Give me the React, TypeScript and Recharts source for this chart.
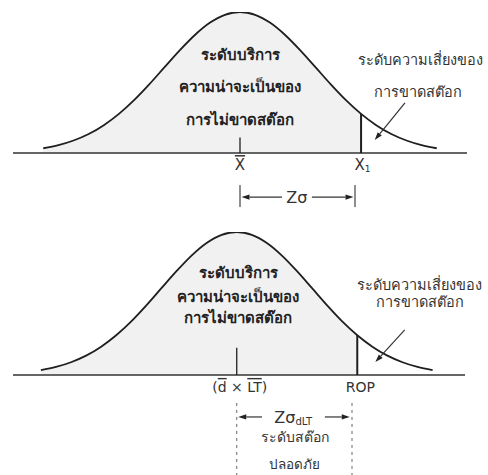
import React from "react";
import { Area, ComposedChart, Line, ReferenceDot, ReferenceLine, XAxis, YAxis } from "recharts";

// z positions (in sigma units) and curve height
const zValues = [-2.6, -2.4, -2.2, -2.0, -1.8, -1.6, -1.4, -1.2, -1.0, -0.8, -0.6, -0.4, -0.2, 0, 0.2, 0.4, 0.6, 0.8, 1.0, 1.2, 1.4, 1.6, 1.8, 2.0, 2.2, 2.4, 2.6];
const density = [0.034, 0.056, 0.089, 0.135, 0.198, 0.278, 0.375, 0.487, 0.607, 0.726, 0.835, 0.923, 0.98, 1, 0.98, 0.923, 0.835, 0.726, 0.607, 0.487, 0.375, 0.278, 0.198, 0.135, 0.089, 0.056, 0.034];
const cutZ = 1.6;
const cutHeight = 0.278;

const serviceText = ["ระดับบริการ", "ความน่าจะเป็นของ", "การไม่ขาดสต๊อก"];
const riskText = ["ระดับความเสี่ยงของ", "การขาดสต๊อก"];
const safetyText = ["ระดับสต๊อก", "ปลอดภัย"];

const data = zValues.map((z, i) => ({
  z,
  curve: density[i],
  shaded: z <= cutZ + 1e-9 ? density[i] : null,
}));

const FONT = "'DejaVu Sans', 'Noto Sans', sans-serif";
const INK = "#1f1f1f";
const over = { textDecoration: "overline" };

const arrowShape = (p: any) => {
  const { x1, y1, x2, y2 } = p;
  const a = Math.atan2(y2 - y1, x2 - x1);
  const len = 8;
  const w = 2.6;
  const bx = x2 - len * Math.cos(a);
  const by = y2 - len * Math.sin(a);
  const pts = `${x2},${y2} ${bx + w * Math.sin(a)},${by - w * Math.cos(a)} ${bx - w * Math.sin(a)},${by + w * Math.cos(a)}`;
  return (
    <g>
      <line x1={x1} y1={y1} x2={bx} y2={by} stroke="#333" strokeWidth={1.2} />
      <polygon points={pts} fill="#222" />
    </g>
  );
};

const note = (key: string, x: number, y: number, content: React.ReactNode, style: any = {}) => (
  <ReferenceDot
    key={key}
    x={x}
    y={y}
    r={0}
    ifOverflow="visible"
    isFront
    shape={(p: any) => (
      <text
        x={p.cx}
        y={p.cy}
        textAnchor="middle"
        dominantBaseline="central"
        fontFamily={FONT}
        fontSize={14}
        fill="#333"
        {...style}
      >
        {content}
      </text>
    )}
  />
);

const seg = (key: string, a: [number, number], b: [number, number], extra: any = {}) => (
  <ReferenceLine
    key={key}
    segment={[{ x: a[0], y: a[1] }, { x: b[0], y: b[1] }]}
    ifOverflow="visible"
    stroke={INK}
    strokeWidth={1.3}
    {...extra}
  />
);

function Curve({ children, height, margin, xDomain, yDomain }: any) {
  return (
    <ComposedChart width={488} height={height} data={data} margin={margin}>
      <XAxis type="number" dataKey="z" domain={xDomain} hide allowDataOverflow />
      <YAxis type="number" domain={yDomain} hide allowDataOverflow />
      <Area
        type="monotone"
        dataKey="shaded"
        baseValue={0}
        stroke="none"
        fill="#d6d6d6"
        fillOpacity={0.35}
        isAnimationActive={false}
      />
      <Line type="monotone" dataKey="curve" stroke={INK} strokeWidth={1.8} dot={false} isAnimationActive={false} />
      <ReferenceLine y={0} stroke="#333" strokeWidth={1.6} />
      {children}
    </ComposedChart>
  );
}

export default function App() {
  const bold = { fontWeight: 700, fontSize: 15, fill: "#222" };
  const dashed = { strokeWidth: 1, strokeDasharray: "3 4", stroke: "#666" };
  return (
    <div style={{ position: "absolute", left: 0, top: 0, width: 488, height: 475, background: "#fff", overflow: "hidden" }}>
      <div style={{ position: "absolute", left: 0, top: 0 }}>
        <Curve height={225} margin={{ top: 12, right: 21, left: 13, bottom: 0 }} xDomain={[-3, 3]} yDomain={[-0.51, 1]}>
          {seg("m", [0, 0], [0, 0.11])}
          {seg("c", [cutZ, 0], [cutZ, cutHeight], { strokeWidth: 2 })}
          {note("t0", 0, -0.085, <tspan style={over}>X</tspan>, { fontSize: 15 })}
          {note(
            "t1",
            cutZ + 0.02,
            -0.085,
            <>
              <tspan>X</tspan>
              <tspan fontSize={9} dy={4}>1</tspan>
            </>,
            { fontSize: 15 }
          )}
          {seg("k0", [0, -0.227], [0, -0.383], { strokeWidth: 1 })}
          {seg("k1", [1.52, -0.227], [1.52, -0.383], { strokeWidth: 1 })}
          {seg("a0", [0.555, -0.312], [0.02, -0.312], { shape: arrowShape })}
          {seg("a1", [0.95, -0.312], [1.5, -0.312], { shape: arrowShape })}
          {note("zs", 0.75, -0.312, "Z\u03c3", { fontSize: 16 })}
          {note("s0", 0, 0.695, serviceText[0], bold)}
          {note("s1", 0, 0.468, serviceText[1], bold)}
          {note("s2", 0, 0.234, serviceText[2], bold)}
          {note("r0", 2.38, 0.66, riskText[0], { fontSize: 14.5 })}
          {note("r1", 2.35, 0.433, riskText[1], { fontSize: 14.5 })}
          {seg("p", [2.18, 0.355], [1.78, 0.092], { shape: arrowShape })}
        </Curve>
      </div>
      <div style={{ position: "absolute", left: 0, top: 225 }}>
        <Curve height={250} margin={{ top: 7, right: 23, left: 13, bottom: 0 }} xDomain={[-2.97, 3.03]} yDomain={[-0.7, 1]}>
          {seg("m", [0, 0], [0, 0.19])}
          {seg("c", [cutZ, 0], [cutZ, cutHeight], { strokeWidth: 2 })}
          {note(
            "t0",
            0.04,
            -0.084,
            <>
              <tspan>(</tspan>
              <tspan style={over}>d</tspan>
              <tspan>{" \u00d7 "}</tspan>
              <tspan style={over}>LT</tspan>
              <tspan>)</tspan>
            </>
          )}
          {note("t1", 1.64, -0.084, "ROP")}
          {seg("d0", [0, -0.196], [0, -0.75], dashed)}
          {seg("d1", [1.53, -0.196], [1.53, -0.75], dashed)}
          {seg("a0", [0.336, -0.294], [0.02, -0.294], { shape: arrowShape })}
          {seg("a1", [1.17, -0.294], [1.5, -0.294], { shape: arrowShape })}
          {note(
            "zs",
            0.75,
            -0.294,
            <>
              <tspan fontSize={16}>{"Z\u03c3"}</tspan>
              <tspan fontSize={10} dy={4}>dLT</tspan>
            </>
          )}
          {note("q0", 0.77, -0.434, safetyText[0])}
          {note("q1", 0.77, -0.625, safetyText[1], { fontSize: 13.5 })}
          {note("s0", 0.02, 0.713, serviceText[0], bold)}
          {note("s1", 0.02, 0.545, serviceText[1], bold)}
          {note("s2", 0.02, 0.399, serviceText[2], bold)}
          {note("r0", 2.42, 0.63, riskText[0], { fontSize: 14.5 })}
          {note("r1", 2.43, 0.51, riskText[1], { fontSize: 14.5 })}
          {seg("p", [2.23, 0.315], [1.84, 0.09], { shape: arrowShape })}
        </Curve>
      </div>
    </div>
  );
}
